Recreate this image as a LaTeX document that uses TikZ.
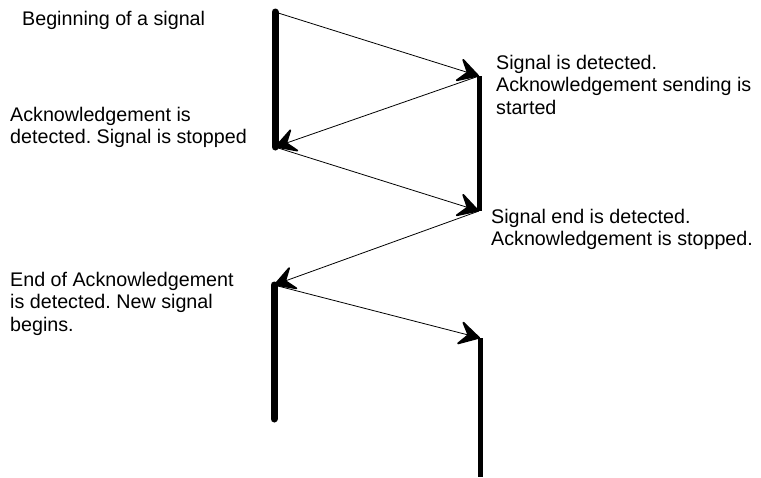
\documentclass[tikz,border=0pt]{standalone}
\usepackage{fontspec}
\setmainfont{Liberation Sans}
\usetikzlibrary{arrows.meta}
\frenchspacing

\begin{document}
\begin{tikzpicture}[x=1pt,y=-1pt,font=\fontsize{19.7}{22.5}\selectfont,
  msg/.style={-{Stealth[length=24pt,width=27pt,inset=10pt,line width=1.8pt,round]},line width=.8pt},
  sig/.style={line width=7pt,line cap=round},
  ack/.style={line width=5pt},
  txt/.style={align=left,inner sep=0pt,anchor=north west}]
\useasboundingbox (0,0) rectangle (761,477);

\coordinate (s1) at (275,12);
\coordinate (s1e) at (275,147);
\coordinate (a1) at (479,76);
\coordinate (a1e) at (479,211);
\coordinate (s2) at (274,285);
\coordinate (s2e) at (274,419);
\coordinate (a2) at (480,338);
\coordinate (a2e) at (480,477);

\draw[sig] (s1) -- (s1e);
\draw[ack] (a1) -- (a1e);
\draw[sig] (s2) -- (s2e);
\draw[ack] (a2) -- (a2e);

\draw[msg] (s1) -- (a1);
\draw[msg] (a1) -- (s1e);
\draw[msg] (s1e) -- (a1e);
\draw[msg] (a1e) -- (s2);
\draw[msg] (s2) -- (a2);

\node[txt,anchor=base west] (t1) at (22,25) {Beginning of a signal};
\node[txt] (t2) at (10,107) {Acknowledgement is\\detected. Signal is stopped};
\node[txt] (t3) at (496,55) {Signal is detected.\\Acknowledgement sending is\\started};
\node[txt] (t4) at (491,209) {Signal end is detected.\\Acknowledgement is stopped.};
\node[txt] (t5) at (10,272) {End of Acknowledgement\\is detected. New signal\\begins.};

\end{tikzpicture}
\end{document}
